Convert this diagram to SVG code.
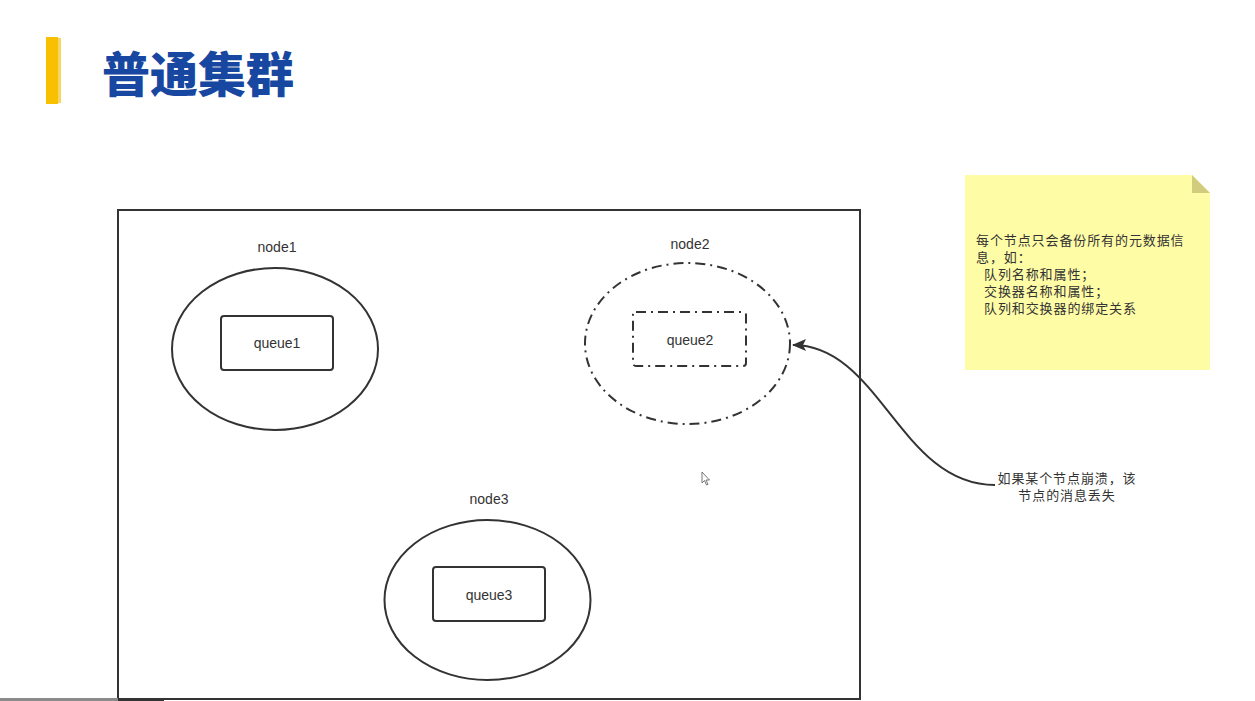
<svg xmlns="http://www.w3.org/2000/svg" width="1255" height="701" viewBox="0 0 1255 701">
<style>
.lbl{font-family:"Liberation Sans","Noto Sans CJK SC",sans-serif;font-size:14px;fill:#333;text-anchor:middle}
.cjk{font-family:"Noto Sans CJK SC",sans-serif;font-size:13px;letter-spacing:0.9px;fill:#333}
.solid{fill:none;stroke:#333;stroke-width:2}
.dashdot{fill:none;stroke:#333;stroke-width:2;stroke-dasharray:10 5 2 5}
</style>
<defs>
<marker id="arr" markerWidth="14" markerHeight="12" refX="13" refY="6" orient="auto" markerUnits="userSpaceOnUse">
<path d="M0,0 L14,6 L0,12 L3,6 Z" fill="#333"/>
</marker>
</defs>
<rect width="1255" height="701" fill="#fff"/>
<g id="title">
<rect x="46" y="37" width="12" height="67" fill="#F9C000"/>
<rect x="58" y="38" width="3" height="65" fill="#F6D467"/>
<text x="102" y="92" style="font-family:'Noto Sans CJK SC',sans-serif;font-size:48px;font-weight:900;fill:#1747A0">普通集群</text>
</g>
<g id="cluster">
<rect x="118" y="210" width="742" height="489" class="solid"/>
</g>
<g id="node1">
<text x="277" y="252" class="lbl">node1</text>
<ellipse cx="275" cy="349" rx="103" ry="81" class="solid"/>
<rect x="221" y="316" width="112" height="54" rx="3" class="solid"/>
<text x="277" y="348" class="lbl">queue1</text>
</g>
<g id="node2">
<text x="690" y="249" class="lbl">node2</text>
<ellipse cx="687.5" cy="343.5" rx="102.5" ry="80.5" class="dashdot"/>
<rect x="633" y="312" width="113" height="54" rx="3" class="dashdot"/>
<text x="690" y="345" class="lbl">queue2</text>
</g>
<g id="node3">
<text x="489" y="504" class="lbl">node3</text>
<ellipse cx="487.5" cy="600" rx="103" ry="80" class="solid"/>
<rect x="433" y="567" width="112" height="54" rx="3" class="solid"/>
<text x="489" y="600" class="lbl">queue3</text>
</g>
<g id="note">
<path d="M965,175 H1192 L1210,193 V370 H965 Z" fill="#FFFCA6"/>
<path d="M1192,175 L1210,193 H1192 Z" fill="#D2CC7E"/>
<text class="cjk" x="976" y="245">每个节点只会备份所有的元数据信</text>
<text class="cjk" x="976" y="262">息，如：</text>
<text class="cjk" x="984" y="279">队列名称和属性；</text>
<text class="cjk" x="984" y="296">交换器名称和属性；</text>
<text class="cjk" x="984" y="313">队列和交换器的绑定关系</text>
</g>
<g id="connectors">
<path d="M995,485 C900,485 880,345 793,345" fill="none" stroke="#333" stroke-width="2" marker-end="url(#arr)"/>
</g>
<g id="crash-label">
<text class="cjk" x="1067" y="483" text-anchor="middle">如果某个节点崩溃，该</text>
<text class="cjk" x="1067" y="500" text-anchor="middle">节点的消息丢失</text>
</g>
<g id="screen-artifacts">
<path d="M702,472 V483 L704.5,480.5 L706.5,485 L708,484.3 L706,480 H709.5 Z" fill="#fff" stroke="#555" stroke-width="0.8"/>
<rect x="0" y="698" width="118" height="3" fill="#8a8a8a"/>
<rect x="118" y="698" width="46" height="3" fill="#333"/>
</g>
</svg>
